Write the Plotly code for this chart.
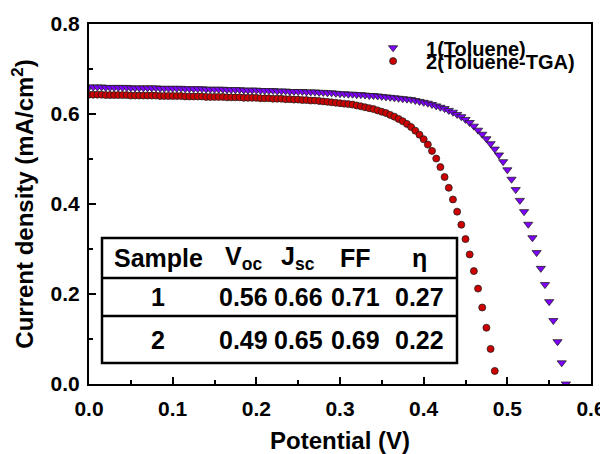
import plotly.graph_objects as go

# ---------------- data ----------------
v_toluene = [
    0.000, 0.005, 0.010, 0.015, 0.020, 0.025, 0.030, 0.035, 0.040, 0.045,
    0.050, 0.055, 0.060, 0.065, 0.070, 0.075, 0.080, 0.085, 0.090, 0.095,
    0.100, 0.105, 0.110, 0.115, 0.120, 0.125, 0.130, 0.135, 0.140, 0.145,
    0.150, 0.155, 0.160, 0.165, 0.170, 0.175, 0.180, 0.185, 0.190, 0.195,
    0.200, 0.205, 0.210, 0.215, 0.220, 0.225, 0.230, 0.235, 0.240, 0.245,
    0.250, 0.255, 0.260, 0.265, 0.270, 0.275, 0.280, 0.285, 0.290, 0.295,
    0.300, 0.305, 0.310, 0.315, 0.320, 0.325, 0.330, 0.335, 0.340, 0.345,
    0.350, 0.355, 0.360, 0.365, 0.370, 0.375, 0.380, 0.385, 0.390, 0.395,
    0.400, 0.405, 0.410, 0.415, 0.420, 0.425, 0.430, 0.435, 0.440, 0.445,
    0.450, 0.455, 0.460, 0.465, 0.470, 0.475, 0.480, 0.485, 0.490, 0.495,
    0.500, 0.505, 0.510, 0.515, 0.520, 0.525, 0.530, 0.535, 0.540, 0.545,
    0.550, 0.555, 0.560, 0.565, 0.570,
]
j_toluene = [
    0.660, 0.660, 0.660, 0.660, 0.659, 0.659, 0.659, 0.659, 0.659, 0.659,
    0.658, 0.658, 0.658, 0.658, 0.658, 0.658, 0.658, 0.657, 0.657, 0.657,
    0.657, 0.657, 0.657, 0.656, 0.656, 0.656, 0.656, 0.656, 0.655, 0.655,
    0.655, 0.655, 0.655, 0.654, 0.654, 0.654, 0.654, 0.653, 0.653, 0.653,
    0.653, 0.652, 0.652, 0.652, 0.652, 0.651, 0.651, 0.651, 0.650, 0.650,
    0.650, 0.650, 0.649, 0.649, 0.649, 0.648, 0.648, 0.647, 0.647, 0.646,
    0.645, 0.645, 0.644, 0.644, 0.643, 0.643, 0.642, 0.641, 0.641, 0.640,
    0.639, 0.638, 0.637, 0.636, 0.635, 0.634, 0.633, 0.632, 0.630, 0.628,
    0.626, 0.624, 0.621, 0.618, 0.615, 0.612, 0.608, 0.604, 0.599, 0.594,
    0.588, 0.581, 0.573, 0.564, 0.555, 0.545, 0.534, 0.522, 0.509, 0.494,
    0.476, 0.455, 0.432, 0.408, 0.383, 0.355, 0.325, 0.292, 0.257, 0.221,
    0.183, 0.141, 0.094, 0.047, 0.000,
]

v_tga = [
    0.000, 0.005, 0.010, 0.015, 0.020, 0.025, 0.030, 0.035, 0.040, 0.045,
    0.050, 0.055, 0.060, 0.065, 0.070, 0.075, 0.080, 0.085, 0.090, 0.095,
    0.100, 0.105, 0.110, 0.115, 0.120, 0.125, 0.130, 0.135, 0.140, 0.145,
    0.150, 0.155, 0.160, 0.165, 0.170, 0.175, 0.180, 0.185, 0.190, 0.195,
    0.200, 0.205, 0.210, 0.215, 0.220, 0.225, 0.230, 0.235, 0.240, 0.245,
    0.250, 0.255, 0.260, 0.265, 0.270, 0.275, 0.280, 0.285, 0.290, 0.295,
    0.300, 0.305, 0.310, 0.315, 0.320, 0.325, 0.330, 0.335, 0.340, 0.345,
    0.350, 0.355, 0.360, 0.365, 0.370, 0.375, 0.380, 0.385, 0.390, 0.395,
    0.400, 0.405, 0.410, 0.415, 0.420, 0.425, 0.430, 0.435, 0.440, 0.445,
    0.450, 0.455, 0.460, 0.465, 0.470, 0.475, 0.480, 0.485,
]
j_tga = [
    0.643, 0.643, 0.643, 0.643, 0.642, 0.642, 0.642, 0.642, 0.642, 0.642,
    0.641, 0.641, 0.641, 0.641, 0.641, 0.641, 0.641, 0.640, 0.640, 0.640,
    0.640, 0.640, 0.640, 0.639, 0.639, 0.639, 0.639, 0.639, 0.638, 0.638,
    0.638, 0.638, 0.638, 0.637, 0.637, 0.637, 0.637, 0.636, 0.636, 0.636,
    0.636, 0.635, 0.635, 0.635, 0.634, 0.634, 0.634, 0.633, 0.633, 0.632,
    0.632, 0.631, 0.631, 0.630, 0.630, 0.629, 0.628, 0.627, 0.626, 0.625,
    0.624, 0.623, 0.622, 0.621, 0.619, 0.617, 0.615, 0.613, 0.611, 0.608,
    0.605, 0.602, 0.598, 0.594, 0.589, 0.584, 0.578, 0.571, 0.563, 0.554,
    0.544, 0.532, 0.518, 0.501, 0.482, 0.460, 0.436, 0.410, 0.383, 0.354,
    0.322, 0.288, 0.251, 0.212, 0.170, 0.125, 0.078, 0.029,
]

series_names = ["1(Toluene)", "2(Toluene-TGA)"]

table_header = ["Sample", "V<sub>oc</sub>", "J<sub>sc</sub>", "FF", "η"]
table_rows = [
    ["1", "0.56", "0.66", "0.71", "0.27"],
    ["2", "0.49", "0.65", "0.69", "0.22"],
]

x_ticks = [0.0, 0.1, 0.2, 0.3, 0.4, 0.5, 0.6]
y_ticks = [0.0, 0.2, 0.4, 0.6, 0.8]

# ---------------- styling ----------------
FONT = "Liberation Sans, Arial, sans-serif"
PURPLE = "#7F00FF"
RED = "#CC0000"

fig = go.Figure()
fig.add_trace(go.Scatter(
    x=v_toluene, y=j_toluene, mode="markers", name=series_names[0],
    marker=dict(symbol="triangle-down", size=8, color=PURPLE,
                line=dict(color="#222222", width=0.8)),
    legend="legend",
))
fig.add_trace(go.Scatter(
    x=v_tga, y=j_tga, mode="markers", name=series_names[1],
    marker=dict(symbol="circle", size=7, color=RED,
                line=dict(color="#222222", width=0.8)),
    legend="legend2",
))

axis_common = dict(
    showline=True, linecolor="black", linewidth=2, mirror=True,
    ticks="inside", ticklen=7, tickwidth=2, tickcolor="black",
    showgrid=False, zeroline=False, automargin=False,
    tickfont=dict(family=FONT, size=21, color="black", weight="bold"),
)

fig.update_xaxes(
    range=[0, 0.6], tickvals=x_ticks, tickformat=".1f", ticklabelstandoff=5,
    minor=dict(ticks="inside", ticklen=4, tickwidth=2, tickcolor="black", dtick=0.05),
    title=dict(text="Potential (V)", standoff=16,
               font=dict(family=FONT, size=24, color="black", weight="bold")),
    **axis_common,
)
fig.update_yaxes(
    range=[0, 0.8], tickvals=y_ticks, tickformat=".1f", ticklabelstandoff=3,
    minor=dict(ticks="inside", ticklen=4, tickwidth=2, tickcolor="black", dtick=0.1),
    title=dict(text="Current density (mA/cm<sup>2</sup>)", standoff=10,
               font=dict(family=FONT, size=24, color="black", weight="bold")),
    **axis_common,
)

# page body has an 8px margin, so the figure is drawn 8px in from the corner
legend_font = dict(family=FONT, size=20, color="black", weight="bold")
fig.update_layout(
    width=600, height=446,
    margin=dict(l=81, r=17, t=16, b=70),
    paper_bgcolor="white", plot_bgcolor="white",
    showlegend=True,
    legend=dict(x=0.540, y=0.934, xanchor="left", yanchor="middle",
                font=legend_font, bgcolor="rgba(0,0,0,0)", itemwidth=56),
    legend2=dict(x=0.540, y=0.897, xanchor="left", yanchor="middle",
                 font=legend_font, bgcolor="rgba(0,0,0,0)", itemwidth=56),
)

# ---------------- inset table ----------------
px_l, px_w, px_b, px_h = 89, 502, 384, 360


def xp(px):
    return (px - px_l) / px_w


def yp(py):
    return (px_b - py) / px_h


tbl_left, tbl_right, tbl_top, tbl_bot = 102, 457, 238, 363
row_lines = [278, 316]
col_centers = [158, 243, 298, 355, 419]
row_centers = [258, 297, 339.5]

fig.add_shape(type="rect", xref="paper", yref="paper",
              x0=xp(tbl_left), x1=xp(tbl_right), y0=yp(tbl_bot), y1=yp(tbl_top),
              line=dict(color="black", width=2.5), fillcolor="white", layer="above")
for ly in row_lines:
    fig.add_shape(type="line", xref="paper", yref="paper",
                  x0=xp(tbl_left), x1=xp(tbl_right), y0=yp(ly), y1=yp(ly),
                  line=dict(color="black", width=2.5), layer="above")

table_font = dict(family=FONT, size=25, color="black", weight="bold")
all_rows = [table_header] + table_rows
for r, row in enumerate(all_rows):
    for c, txt in enumerate(row):
        fig.add_annotation(
            xref="paper", yref="paper", x=xp(col_centers[c]), y=yp(row_centers[r]),
            text=txt, showarrow=False, xanchor="center", yanchor="middle",
            font=table_font,
        )

fig.write_html("out.html")
